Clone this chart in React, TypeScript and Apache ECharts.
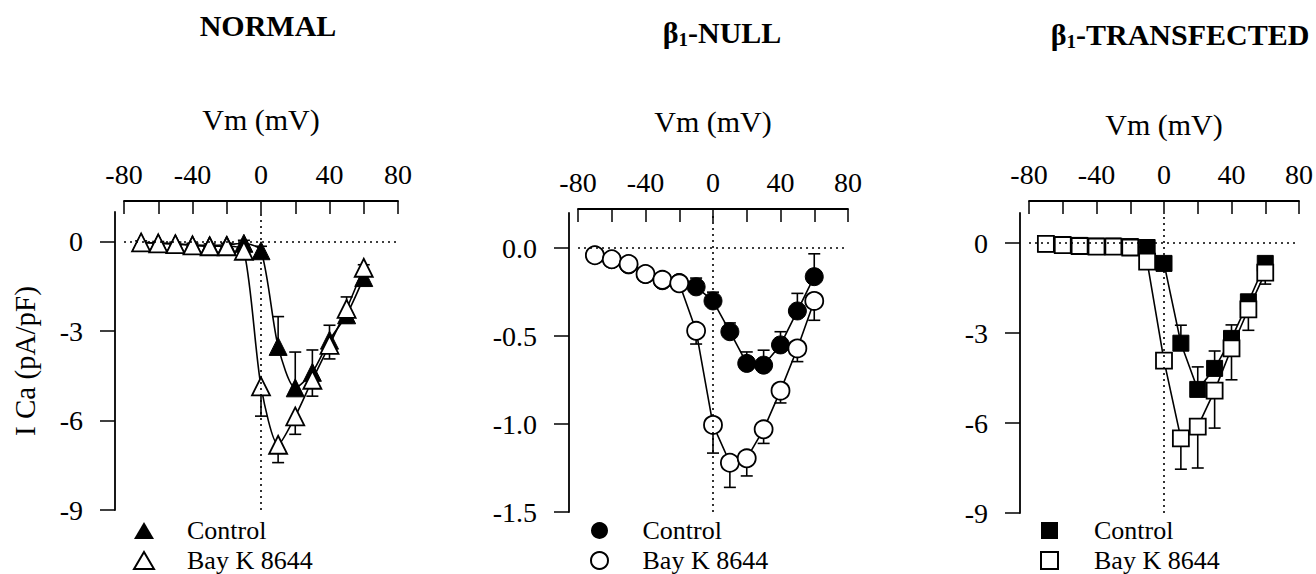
import React, { useEffect, useRef } from 'react';
import * as echarts from 'echarts';

// Test potentials (mV)
const voltages = [-70, -60, -50, -40, -30, -20, -10, 0, 10, 20, 30, 40, 50, 60];

// NORMAL: mean current density and SEM (pA/pF)
const normalControl = [-0.02, -0.04, -0.06, -0.1, -0.12, -0.1, -0.05, -0.3, -3.51, -4.9, -4.38, -3.3, -2.45, -1.2];
const normalControlSem = [0.05, 0.05, 0.05, 0.05, 0.05, 0.05, 0.1, 0.15, 1.0, 1.2, 0.75, 0.5, 0.6, 0.43];
const normalBayK = [-0.02, -0.05, -0.08, -0.12, -0.15, -0.15, -0.3, -4.85, -6.81, -5.86, -4.63, -3.46, -2.25, -0.87];
const normalBayKSem = [0.05, 0.05, 0.05, 0.05, 0.05, 0.05, 0.1, 1.0, 0.6, 0.6, 0.55, 0.47, 0.47, 0.2];

// β1-NULL
const nullControl = [-0.04, -0.065, -0.095, -0.15, -0.185, -0.195, -0.22, -0.3, -0.475, -0.655, -0.665, -0.55, -0.357, -0.162];
const nullControlSem = [0.01, 0.01, 0.01, 0.01, 0.01, 0.015, 0.05, 0.05, 0.05, 0.065, 0.085, 0.075, 0.1, 0.13];
const nullBayK = [-0.04, -0.063, -0.09, -0.147, -0.18, -0.2, -0.47, -1.005, -1.22, -1.195, -1.03, -0.81, -0.57, -0.3];
const nullBayKSem = [0.01, 0.01, 0.01, 0.01, 0.01, 0.015, 0.075, 0.16, 0.14, 0.1, 0.08, 0.07, 0.075, 0.11];

// β1-TRANSFECTED
const transControl = [-0.03, -0.05, -0.08, -0.1, -0.1, -0.12, -0.15, -0.68, -3.34, -4.88, -4.18, -3.18, -1.96, -0.68];
const transControlSem = [0.05, 0.05, 0.05, 0.05, 0.05, 0.05, 0.1, 0.15, 0.6, 0.75, 0.58, 0.45, 0.17, 0.1];
const transBayK = [-0.03, -0.07, -0.1, -0.12, -0.12, -0.15, -0.62, -3.92, -6.51, -6.12, -4.92, -3.51, -2.21, -0.99];
const transBayKSem = [0.05, 0.05, 0.05, 0.05, 0.05, 0.05, 0.1, 0.2, 1.03, 1.38, 1.25, 1.05, 0.7, 0.38];

// Axis ticks and labels
const xTickValues = [-80, -60, -40, -20, 0, 20, 40, 60, 80];
const xLabelValues = [-80, -40, 0, 40, 80];
const normalYTicks = [-9, -6, -3, 0];
const nullYTicks = [-1.5, -1.0, -0.5, 0];
const transYTicks = [-9, -6, -3, 0];

const panelTitles = ['NORMAL', 'β1-NULL', 'β1-TRANSFECTED'];
const seriesNames = ['Control', 'Bay K 8644'];
const xAxisName = 'Vm (mV)';
const yAxisName = 'I Ca (pA/pF)';

const FONT = 'Liberation Serif, Times New Roman, serif';
const INK = '#000';

type Panel = {
  grid: { left: number; top: number; width: number; height: number };
  xOffset: number;
  nameGap: number;
  yMin: number;
  yMax: number;
  yTicks: number[];
  yFormat: (v: number) => string;
  symbol: string;
  symbolSize: number;
  iconWidth: number;
  smooth: number | boolean;
  control: number[];
  controlSem: number[];
  bayK: number[];
  bayKSem: number[];
  legendLeft: number;
  legendTop: number;
  titleX: number;
  titleY: number;
  yName?: string;
};

const panels: Panel[] = [
  {
    grid: { left: 124, top: 212, width: 274, height: 298 },
    xOffset: 11,
    nameGap: 67,
    yMin: -9,
    yMax: 1,
    yTicks: normalYTicks,
    yFormat: (v) => String(v),
    symbol: 'triangle',
    symbolSize: 18,
    iconWidth: 20,
    smooth: 0.25,
    control: normalControl,
    controlSem: normalControlSem,
    bayK: normalBayK,
    bayKSem: normalBayKSem,
    legendLeft: 133,
    legendTop: 517,
    titleX: 268,
    titleY: 25,
    yName: yAxisName,
  },
  {
    grid: { left: 578, top: 213, width: 270, height: 299 },
    xOffset: 4,
    nameGap: 73,
    yMin: -1.5,
    yMax: 0.2,
    yTicks: nullYTicks,
    yFormat: (v) => v.toFixed(1),
    symbol: 'circle',
    symbolSize: 18,
    iconWidth: 20,
    smooth: false,
    control: nullControl,
    controlSem: nullControlSem,
    bayK: nullBayK,
    bayKSem: nullBayKSem,
    legendLeft: 590,
    legendTop: 517,
    titleX: 722,
    titleY: 32,
  },
  {
    grid: { left: 1029, top: 213, width: 270, height: 300 },
    xOffset: 12,
    nameGap: 62,
    yMin: -9,
    yMax: 1,
    yTicks: transYTicks,
    yFormat: (v) => String(v),
    symbol: 'rect',
    symbolSize: 16,
    iconWidth: 17,
    smooth: false,
    control: transControl,
    controlSem: transControlSem,
    bayK: transBayK,
    bayKSem: transBayKSem,
    legendLeft: 1040,
    legendTop: 517,
    titleX: 1180,
    titleY: 34,
  },
];

function titleText(t: string) {
  if (t.startsWith('β1')) return `{b|β}{s|1}{b|${t.slice(2)}}`;
  return `{b|${t}}`;
}

function errorBarSeries(
  xs: number[],
  means: number[],
  sems: number[],
  dir: number,
  idx: number
) {
  return {
    type: 'custom',
    xAxisIndex: idx,
    yAxisIndex: idx,
    z: 1,
    silent: true,
    data: xs.map((x, i) => [x, means[i], sems[i]]),
    encode: { x: 0, y: 1 },
    renderItem: (_params: any, api: any) => {
      const x = api.value(0);
      const m = api.value(1);
      const s = api.value(2);
      const p0 = api.coord([x, m]);
      const p1 = api.coord([x, m + dir * s]);
      const style = { stroke: INK, lineWidth: 1.6 };
      return {
        type: 'group',
        children: [
          { type: 'line', shape: { x1: p0[0], y1: p0[1], x2: p1[0], y2: p1[1] }, style },
          { type: 'line', shape: { x1: p1[0] - 6, y1: p1[1], x2: p1[0] + 6, y2: p1[1] }, style },
        ],
      };
    },
  };
}

function buildOption() {
  const grid: any[] = [];
  const xAxis: any[] = [];
  const yAxis: any[] = [];
  const series: any[] = [];
  const legend: any[] = [];
  const graphic: any[] = [];

  panels.forEach((p, i) => {
    grid.push({ ...p.grid, containLabel: false });

    xAxis.push({
      type: 'value',
      gridIndex: i,
      position: 'top',
      offset: p.xOffset,
      min: -80,
      max: 80,
      interval: 20,
      name: xAxisName,
      nameLocation: 'middle',
      nameGap: p.nameGap,
      nameTextStyle: { fontFamily: FONT, fontSize: 30, color: INK },
      axisLine: { show: true, onZero: false, lineStyle: { color: INK, width: 1.8 } },
      axisTick: { show: true, inside: true, length: 13, customValues: xTickValues, lineStyle: { color: INK, width: 1.5 } },
      axisLabel: { show: true, customValues: xLabelValues, margin: 13, fontFamily: FONT, fontSize: 28, color: INK },
      splitLine: { show: false },
    });

    yAxis.push({
      type: 'value',
      gridIndex: i,
      offset: 9,
      min: p.yMin,
      max: p.yMax,
      name: p.yName || '',
      nameLocation: 'middle',
      nameGap: 76,
      nameRotate: 90,
      nameTextStyle: { fontFamily: FONT, fontSize: 29, color: INK },
      axisLine: { show: true, onZero: false, lineStyle: { color: INK, width: 1.8 } },
      axisTick: { show: true, inside: false, length: 15, customValues: p.yTicks, lineStyle: { color: INK, width: 1.5 } },
      axisLabel: {
        show: true,
        customValues: p.yTicks,
        margin: 32,
        formatter: (v: number) => p.yFormat(v),
        fontFamily: FONT,
        fontSize: 28,
        color: INK,
      },
      splitLine: { show: false },
    });

    series.push(errorBarSeries(voltages, p.control, p.controlSem, 1, i));
    series.push(errorBarSeries(voltages, p.bayK, p.bayKSem, -1, i));

    series.push({
      type: 'line',
      name: seriesNames[0],
      xAxisIndex: i,
      yAxisIndex: i,
      z: 2,
      data: voltages.map((v, k) => [v, p.control[k]]),
      smooth: p.smooth,
      symbol: p.symbol,
      symbolSize: p.symbolSize,
      showSymbol: true,
      lineStyle: { color: INK, width: 1.6 },
      itemStyle: { color: INK, borderColor: INK, borderWidth: 1 },
      emphasis: { disabled: true },
      markLine: {
        silent: true,
        symbol: ['none', 'none'],
        label: { show: false },
        lineStyle: { color: INK, type: [2, 4], width: 1.6 },
        emphasis: { disabled: true },
        data: [{ yAxis: 0 }, { xAxis: 0 }],
      },
    });

    series.push({
      type: 'line',
      name: seriesNames[1],
      xAxisIndex: i,
      yAxisIndex: i,
      z: 3,
      data: voltages.map((v, k) => [v, p.bayK[k]]),
      smooth: p.smooth,
      symbol: p.symbol,
      symbolSize: p.symbolSize,
      showSymbol: true,
      lineStyle: { color: INK, width: 1.6 },
      itemStyle: { color: '#fff', borderColor: INK, borderWidth: 1.8 },
      emphasis: { disabled: true },
    });

    legend.push({
      left: p.legendLeft,
      top: p.legendTop,
      orient: 'vertical',
      padding: 0,
      itemWidth: p.iconWidth,
      itemHeight: 17,
      itemGap: 3,
      selectedMode: false,
      textStyle: {
        fontFamily: FONT,
        fontSize: 26,
        color: INK,
        lineHeight: 27,
        padding: [0, 0, 0, 48 - p.iconWidth],
      },
      data: [
        { name: seriesNames[0], icon: p.symbol, itemStyle: { color: INK, borderColor: INK, borderWidth: 0 } },
        { name: seriesNames[1], icon: p.symbol, itemStyle: { color: '#fff', borderColor: INK, borderWidth: 2 } },
      ],
    });

    graphic.push({
      type: 'text',
      x: p.titleX,
      y: p.titleY,
      silent: true,
      style: {
        text: titleText(panelTitles[i]),
        textAlign: 'center',
        textVerticalAlign: 'middle',
        fill: INK,
        rich: {
          b: { fontFamily: FONT, fontWeight: 'bold', fontSize: 30, fill: INK },
          s: { fontFamily: FONT, fontWeight: 'bold', fontSize: 19, fill: INK, padding: [14, 0, 0, 0] },
        },
      },
    });
  });

  return {
    animation: false,
    backgroundColor: '#fff',
    textStyle: { fontFamily: FONT },
    grid,
    xAxis,
    yAxis,
    series,
    legend,
    graphic,
  };
}

export default function App() {
  const ref = useRef<HTMLDivElement>(null);

  useEffect(() => {
    if (!ref.current) return;
    const chart = echarts.init(ref.current, undefined, { renderer: 'svg' });
    chart.setOption(buildOption() as any);
    return () => chart.dispose();
  }, []);

  return (
    <div
      ref={ref}
      style={{ position: 'absolute', left: 0, top: 0, width: 1316, height: 574, background: '#fff' }}
    />
  );
}
